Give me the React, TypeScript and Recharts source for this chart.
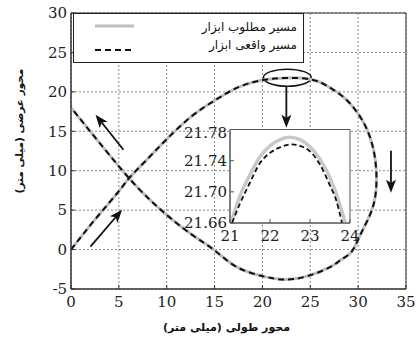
import React from "react";
import {
  CartesianGrid,
  Label,
  Legend,
  Line,
  LineChart,
  ReferenceArea,
  ReferenceLine,
  XAxis,
  YAxis,
} from "recharts";

// tool path in the x-y plane (mm), in travel order
const desiredPath = [
  { x: 0, y: 0 }, { x: 2.5, y: 3.8 }, { x: 5, y: 7.4 }, { x: 6.1, y: 9.1 },
  { x: 8, y: 11.5 }, { x: 10, y: 14.0 }, { x: 12.5, y: 16.8 }, { x: 15, y: 18.9 },
  { x: 17.5, y: 20.6 }, { x: 20, y: 21.5 }, { x: 22.5, y: 21.77 }, { x: 25, y: 21.6 },
  { x: 26.7, y: 20.8 }, { x: 28.5, y: 19.3 }, { x: 29.9, y: 17.4 }, { x: 30.9, y: 15.3 },
  { x: 31.6, y: 12.7 }, { x: 31.9, y: 9.8 }, { x: 31.8, y: 6.8 }, { x: 31.2, y: 4.3 },
  { x: 30.2, y: 1.8 }, { x: 29.3, y: -0.3 }, { x: 28.2, y: -1.3 }, { x: 27.1, y: -2.2 },
  { x: 24.6, y: -3.4 }, { x: 22.3, y: -3.8 }, { x: 20.1, y: -3.4 }, { x: 17.3, y: -2.2 },
  { x: 15, y: -0.1 }, { x: 12.5, y: 2.0 }, { x: 9.7, y: 4.7 }, { x: 8, y: 6.6 },
  { x: 6.1, y: 9.0 }, { x: 3, y: 13.5 }, { x: 0, y: 18 },
];

const actualPath = [
  { x: 0, y: 0 }, { x: 2.5, y: 3.8 }, { x: 5, y: 7.4 }, { x: 6.1, y: 9.1 },
  { x: 8, y: 11.5 }, { x: 10, y: 14.0 }, { x: 12.5, y: 16.8 }, { x: 15, y: 18.9 },
  { x: 17.5, y: 20.6 }, { x: 20, y: 21.49 }, { x: 22.5, y: 21.76 }, { x: 25, y: 21.59 },
  { x: 26.7, y: 20.8 }, { x: 28.5, y: 19.3 }, { x: 29.9, y: 17.4 }, { x: 30.9, y: 15.3 },
  { x: 31.6, y: 12.7 }, { x: 31.9, y: 9.8 }, { x: 31.8, y: 6.8 }, { x: 31.2, y: 4.3 },
  { x: 30.2, y: 1.8 }, { x: 29.3, y: -0.3 }, { x: 28.2, y: -1.3 }, { x: 27.1, y: -2.2 },
  { x: 24.6, y: -3.4 }, { x: 22.3, y: -3.8 }, { x: 20.1, y: -3.4 }, { x: 17.3, y: -2.2 },
  { x: 15, y: -0.1 }, { x: 12.5, y: 2.0 }, { x: 9.7, y: 4.7 }, { x: 8, y: 6.6 },
  { x: 6.1, y: 9.0 }, { x: 3, y: 13.5 }, { x: 0, y: 18 },
];

// zoom of the top of the loop
const desiredZoom = [
  { x: 21.0, y: 21.655 }, { x: 21.25, y: 21.695 }, { x: 21.5, y: 21.722 },
  { x: 21.75, y: 21.745 }, { x: 22.0, y: 21.759 }, { x: 22.25, y: 21.767 },
  { x: 22.5, y: 21.77 }, { x: 22.75, y: 21.767 }, { x: 23.0, y: 21.758 },
  { x: 23.25, y: 21.742 }, { x: 23.5, y: 21.718 }, { x: 23.75, y: 21.683 },
  { x: 23.88, y: 21.66 },
];

const actualZoom = [
  { x: 21.05, y: 21.66 }, { x: 21.25, y: 21.685 }, { x: 21.5, y: 21.712 },
  { x: 21.75, y: 21.737 }, { x: 22.0, y: 21.75 }, { x: 22.25, y: 21.757 },
  { x: 22.55, y: 21.761 }, { x: 22.75, y: 21.759 }, { x: 23.0, y: 21.752 },
  { x: 23.25, y: 21.735 }, { x: 23.5, y: 21.708 }, { x: 23.65, y: 21.69 },
  { x: 23.8, y: 21.66 },
];

const xTicks = [0, 5, 10, 15, 20, 25, 30, 35];
const yTicks = [-5, 0, 5, 10, 15, 20, 25, 30];
const insetXTicks = [21, 22, 23, 24];
const insetYTicks = [21.66, 21.7, 21.74, 21.78];

const seriesNames = ["مسیر مطلوب ابزار", "مسیر واقعی ابزار"];
const xTitle = "محور طولی (میلی متر)";
const yTitle = "محور عرضی (میلی متر)";

// direction arrows, in data units: [tail, head]
const arrows = [
  [{ x: 5.48, y: 12.66 }, { x: 2.56, y: 17.1 }],
  [{ x: 2.03, y: 0.38 }, { x: 5.34, y: 5.06 }],
  [{ x: 22.5, y: 20.63 }, { x: 22.5, y: 15.44 }],
  [{ x: 33.43, y: 12.53 }, { x: 33.43, y: 7.22 }],
];

const serif = "'DejaVu Serif', 'Liberation Serif', serif";
const persian = "'DejaVu Sans', sans-serif";
const TICK_SIZE = 15;

const XTick = (props: any) => {
  const { x, y, payload } = props;
  return (
    <text
      x={x}
      y={y}
      dy="0.71em"
      textAnchor="middle"
      style={{ fontFamily: serif, fontSize: TICK_SIZE }}
      fill="#222"
    >
      {payload.value}
    </text>
  );
};

const YTick = (props: any) => {
  const { x, y, payload, digits } = props;
  const v = digits ? Number(payload.value).toFixed(digits) : payload.value;
  return (
    <text
      x={x}
      y={y}
      dy="0.35em"
      textAnchor="end"
      style={{ fontFamily: serif, fontSize: TICK_SIZE }}
      fill="#222"
    >
      {v}
    </text>
  );
};

const Arrow = (props: any) => {
  const { x1, y1, x2, y2 } = props;
  const a = Math.atan2(y2 - y1, x2 - x1);
  const len = 13;
  const half = 5;
  const bx = x2 - len * Math.cos(a);
  const by = y2 - len * Math.sin(a);
  const nx = x2 - (len - 3) * Math.cos(a);
  const ny = y2 - (len - 3) * Math.sin(a);
  const px = -Math.sin(a) * half;
  const py = Math.cos(a) * half;
  return (
    <g>
      <line x1={x1} y1={y1} x2={nx} y2={ny} stroke="#111" strokeWidth={1.8} />
      <polygon
        points={`${x2},${y2} ${bx + px},${by + py} ${nx},${ny} ${bx - px},${by - py}`}
        fill="#111"
      />
    </g>
  );
};

const Ellipse = (props: any) => {
  const { x, y, width, height } = props;
  return (
    <ellipse
      cx={x + width / 2}
      cy={y + height / 2}
      rx={width / 2}
      ry={height / 2}
      fill="none"
      stroke="#111"
      strokeWidth={1.5}
    />
  );
};

const LegendBox = ({ payload }: any) => (
  <div
    style={{
      width: 231,
      height: 50,
      boxSizing: "border-box",
      border: "1px solid #222",
      background: "#fff",
      fontFamily: persian,
      fontSize: 12,
      color: "#111",
    }}
  >
    {(payload || []).map((p: any, i: number) => (
      <div key={i} style={{ display: "flex", alignItems: "center", height: 24 }}>
        <svg width={62} height={10} style={{ flex: "none" }}>
          <line
            x1={21}
            x2={60}
            y1={5}
            y2={5}
            stroke={p.color}
            strokeWidth={p.payload?.strokeWidth}
            strokeDasharray={p.payload?.strokeDasharray}
          />
        </svg>
        <span
          style={{
            flex: 1,
            textAlign: "right",
            direction: "rtl",
            paddingRight: 6,
            position: "relative",
            top: i === 0 ? 1 : -5,
          }}
        >
          {p.value}
        </span>
      </div>
    ))}
  </div>
);

export default function App() {
  return (
    <div
      style={{
        position: "absolute",
        left: 0,
        top: 0,
        width: 417,
        height: 338,
        background: "#fff",
        fontFamily: serif,
      }}
    >
      <LineChart width={417} height={338} margin={{ top: 13, right: 11, left: 0, bottom: 0 }}>
        <CartesianGrid stroke="#8a8a8a" strokeDasharray="2 2" />
        <XAxis
          dataKey="x"
          type="number"
          domain={[0, 35]}
          ticks={xTicks}
          allowDataOverflow
          height={49}
          tickSize={-4}
          tickMargin={11}
          tickLine={{ stroke: "#333" }}
          axisLine={{ stroke: "#333" }}
          tick={<XTick />}
        >
          <Label
            content={({ viewBox }: any) => (
              <text
                x={viewBox.x + viewBox.width / 2 - 12}
                y={viewBox.y + 42}
                textAnchor="middle"
                direction="rtl"
                style={{ fontFamily: persian, fontSize: 11, fontWeight: "bold" }}
                fill="#111"
              >
                {xTitle}
              </text>
            )}
          />
        </XAxis>
        <YAxis
          type="number"
          domain={[-5, 30]}
          ticks={yTicks}
          allowDataOverflow
          width={71}
          tickSize={-4}
          tickMargin={8}
          tickLine={{ stroke: "#333" }}
          axisLine={{ stroke: "#333" }}
          tick={<YTick />}
        >
          <Label
            content={({ viewBox }: any) => {
              const cx = viewBox.x + 19;
              const cy = viewBox.y + 118;
              return (
                <text
                  x={cx}
                  y={cy}
                  transform={`rotate(-90 ${cx} ${cy})`}
                  textAnchor="middle"
                  dominantBaseline="central"
                  direction="rtl"
                  style={{ fontFamily: persian, fontSize: 10.5, fontWeight: "bold" }}
                  fill="#111"
                >
                  {yTitle}
                </text>
              );
            }}
          />
        </YAxis>
        <ReferenceArea x1={0} x2={35} y1={-5} y2={30} fill="none" stroke="#333" strokeWidth={1} />
        <Legend
          layout="vertical"
          align="center"
          verticalAlign="middle"
          wrapperStyle={{ left: 73, top: 13, width: 231, height: 50 }}
          content={<LegendBox />}
        />
        <Line
          name={seriesNames[0]}
          data={desiredPath}
          dataKey="y"
          type="natural"
          stroke="#bdbdbd"
          strokeWidth={3}
          dot={false}
          isAnimationActive={false}
        />
        <Line
          name={seriesNames[1]}
          data={actualPath}
          dataKey="y"
          type="natural"
          stroke="#111"
          strokeWidth={2}
          strokeDasharray="6 4"
          dot={false}
          isAnimationActive={false}
        />
        <ReferenceArea x1={20.1} x2={25.1} y1={20.72} y2={22.88} shape={<Ellipse />} />
        {arrows.map((seg, i) => (
          <ReferenceLine key={i} segment={seg} shape={<Arrow />} />
        ))}
      </LineChart>

      <div style={{ position: "absolute", left: 175, top: 124 }}>
        <LineChart width={190} height={127} margin={{ top: 5.5, right: 15, left: 0, bottom: 0 }}>
          <CartesianGrid horizontal={false} vertical={false} fill="#fff" />
          <XAxis
            dataKey="x"
            type="number"
            domain={[21, 24]}
            ticks={insetXTicks}
            allowDataOverflow
            height={28}
            tickSize={-4}
            tickMargin={11.5}
            tickLine={{ stroke: "#555" }}
            axisLine={{ stroke: "#555" }}
            tick={<XTick />}
          />
          <YAxis
            type="number"
            domain={[21.66, 21.78]}
            ticks={insetYTicks}
            allowDataOverflow
            width={55}
            tickSize={-4}
            tickMargin={7}
            tickLine={{ stroke: "#555" }}
            axisLine={{ stroke: "#555" }}
            tick={<YTick digits={2} />}
          />
          <ReferenceArea x1={21} x2={24} y1={21.66} y2={21.78} fill="none" stroke="#555" />
          <Line
            data={desiredZoom}
            dataKey="y"
            type="monotone"
            stroke="#c8c8c8"
            strokeWidth={3.5}
            dot={false}
            isAnimationActive={false}
          />
          <Line
            data={actualZoom}
            dataKey="y"
            type="monotone"
            stroke="#111"
            strokeWidth={1.8}
            strokeDasharray="5 3"
            dot={false}
            isAnimationActive={false}
          />
        </LineChart>
      </div>
    </div>
  );
}
